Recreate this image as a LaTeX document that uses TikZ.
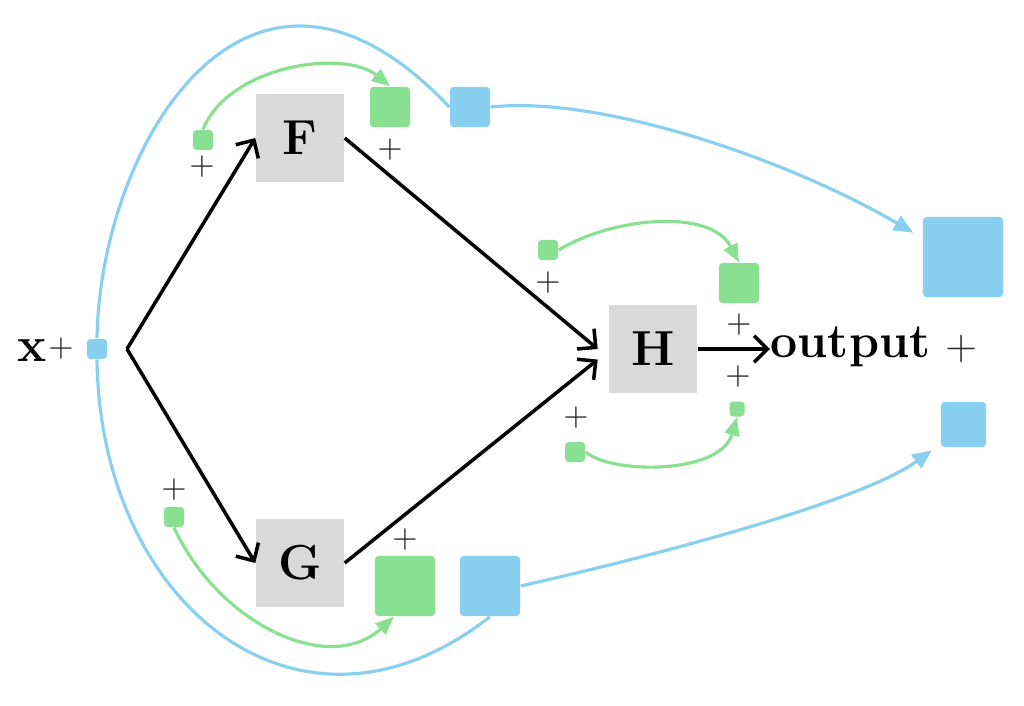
\documentclass[tikz,border=0pt]{standalone}
\usepackage{amsmath}
\usepackage{tikz}
\usetikzlibrary{
	arrows.meta, backgrounds
}
\definecolor{resgreen}  {RGB}{136, 224, 144}
\definecolor{resblue}   {RGB}{137, 207, 240}
\definecolor{blockgray} {RGB}{217, 217, 217}
\definecolor{plusgray}  {RGB}{ 40,  40,  40}

\begin{document}
\begin{tikzpicture}[x=0.01cm, y=0.01cm,
		block/.style={fill=blockgray, minimum size=0.88cm, inner sep=0pt, font=\fontsize{14}{16}\selectfont\bfseries},
		gsq/.style={fill=resgreen, rounded corners=1pt, inner sep=0pt, minimum size=#1},
		bsq/.style={fill=resblue, rounded corners=1pt, inner sep=0pt, minimum size=#1},
		plus/.style={text=plusgray, inner sep=0pt, font=\fontsize{9}{11}\selectfont},
		flow/.style={draw=black, line width=1pt, -{Straight Barb[length=3.8pt,width=7.5pt]}},
		gline/.style={draw=resgreen, line width=0.9pt, -{Triangle[length=5.2pt,width=4.2pt]}},
		bline/.style={draw=resblue, line width=0.9pt},
		barrow/.style={bline, -{Triangle[length=5.5pt,width=4.6pt]}, shorten >=3pt}]
	\useasboundingbox (0,0) rectangle (1024,705);

	\node (xin) [font=\fontsize{14}{16}\selectfont\bfseries] at (32,354) {x};
	\node[plus] (xp) at (61,356) {+};
	\node[bsq=0.2cm] (xsq) at (97,356) {};
	\coordinate (split) at (127,356);

	\node[block] (F) at (300,567) {F};
	\node[block] (G) at (300,142) {G};
	\node[block] (H) at (653,356) {H};
	\node (out) [anchor=base west, inner sep=0pt, font=\fontsize{13.7}{16}\selectfont\bfseries] at (770,348) {output};
	\node[plus, font=\fontsize{12}{14}\selectfont] (outp) at (962,356) {+};

	% branch F
	\node[gsq=0.2cm] (fgs) at (203,565) {};
	\node[plus] (fgsp) at (202,538) {+};
	\node[gsq=0.4cm] (fgb) at (390,598) {};
	\node[plus] (fgbp) at (390,555) {+};
	\node[bsq=0.4cm] (fb) at (470,598) {};

	% branch G
	\node[gsq=0.2cm] (ggs) at (174,188) {};
	\node[plus] (ggsp) at (174,215) {+};
	\node[gsq=0.6cm] (ggb) at (405,119) {};
	\node[plus] (ggbp) at (405,165) {+};
	\node[bsq=0.6cm] (gb) at (490,119) {};

	% block H
	\node[gsq=0.2cm] (hgs) at (548,455) {};
	\node[plus] (hgsp) at (548,422) {+};
	\node[gsq=0.4cm] (hgb) at (739,422) {};
	\node[plus] (hgbp) at (739,380) {+};
	\node[gsq=0.15cm] (hgm) at (737,296) {};
	\node[plus] (hgmp) at (738,328) {+};
	\node[gsq=0.2cm] (hgt) at (575,253) {};
	\node[plus] (hgtp) at (576,287) {+};

	% output
	\node[bsq=0.8cm] (ob) at (963,448) {};
	\node[bsq=0.45cm] (os) at (963.5,280.5) {};

	\draw[flow] (split) -- (F.west);
	\draw[flow] (split) -- (G.west);
	\draw[flow] (F.east) -- ([xshift=-3pt]H.west);
	\draw[flow] (G.east) -- ([xshift=-3pt,yshift=-3pt]H.west);
	\draw[flow] (H.east) -- (H.east -| out.west);

	\begin{scope}[on background layer]
		\draw[bline] (xsq.north) .. controls +(3,194) and +(-200,212) .. (fb.west);
		\draw[bline] (xsq.south) .. controls +(3,-246) and +(-190,-149) .. (gb.south);
		\draw[barrow] (fb.east) .. controls +(110,12) and +(-133,78) .. (ob.155);
		\draw[barrow] (gb.east) .. controls +(180,41) and +(-71,-52) .. (os.220);
		\draw[gline] (fgs.north) .. controls +(27,65) and +(-45,37) .. (fgb.north);
		\draw[gline] (ggs.south) .. controls +(46,-98) and +(-64,-59) .. (ggb.250);
		\draw[gline] (hgs.east) .. controls +(52,32) and +(-29,55) .. (hgb.north);
		\draw[gline] (hgt.east) .. controls +(25,-22) and +(-17,-58) .. (hgm.south);
	\end{scope}
\end{tikzpicture}
\end{document}
